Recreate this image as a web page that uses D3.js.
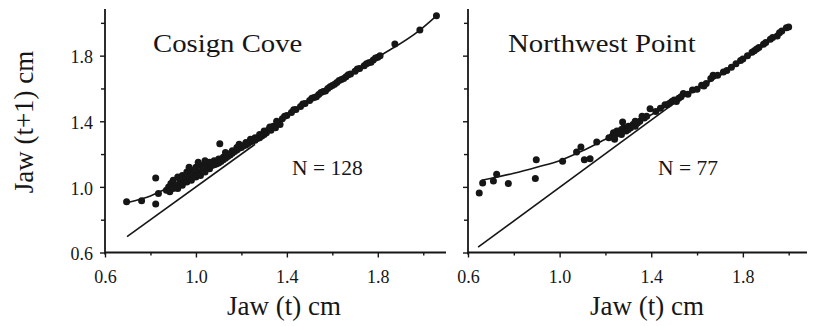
<!DOCTYPE html>
<html>
<head>
<meta charset="utf-8">
<script src="https://cdn.jsdelivr.net/npm/d3@7/dist/d3.min.js"></script>
<style>
  html, body { margin: 0; padding: 0; background: #fff; }
  svg { display: block; }
  text { font-family: "Liberation Serif", "Times New Roman", Times, serif; fill: #161616; }
</style>
</head>
<body>
<svg id="chart" width="813" height="326"></svg>
<script>
// ---------------- data ----------------
const majorTicks = [0.6, 1.0, 1.4, 1.8];
const minorTicks = [0.8, 1.2, 1.6, 2.0];
const xTitle = "Jaw (t) cm";
const yTitle = "Jaw (t+1) cm";

const panelTitles = ["Cosign Cove", "Northwest Point"];
const sampleLabels = ["N = 128", "N = 77"];

// Cosign Cove: [Jaw(t), Jaw(t+1)]
const cosignPoints = [
  [0.695,0.909],[0.761,0.915],[0.823,1.054],[0.823,0.895],[0.835,0.96],
  [0.87,0.98],[0.88,1.00],[0.885,0.97],[0.89,1.02],[0.90,0.99],[0.90,1.04],[0.91,1.01],[0.92,1.06],
  [0.92,0.99],[0.93,1.03],[0.94,1.07],[0.94,1.01],[0.95,1.05],[0.96,1.09],[0.96,1.03],[0.97,1.06],
  [0.98,1.10],[0.98,1.04],[0.99,1.08],[1.00,1.12],[1.00,1.06],[1.01,1.09],[1.02,1.13],[1.02,1.07],
  [1.03,1.10],[1.04,1.14],[1.04,1.09],[1.05,1.12],[1.06,1.15],[1.06,1.11],[1.07,1.13],[1.08,1.16],
  [1.08,1.135],[1.09,1.14],[1.105,1.263],[1.10,1.17],[1.10,1.145],[1.11,1.155],[1.12,1.18],[1.12,1.165],
  [1.13,1.175],[1.14,1.20],[1.14,1.185],[1.15,1.195],[1.16,1.22],[1.16,1.205],[1.17,1.215],[1.18,1.24],
  [1.18,1.225],[1.19,1.235],[1.20,1.25],[1.20,1.24],[1.21,1.25],[1.22,1.27],[1.22,1.255],[1.23,1.265],
  [1.24,1.29],[1.24,1.275],[1.25,1.28],[1.26,1.30],[1.26,1.285],[1.27,1.295],[1.28,1.32],[1.28,1.30],
  [1.29,1.31],[1.30,1.34],[1.30,1.32],[1.31,1.33],[1.32,1.35],[1.33,1.345],[1.34,1.37],[1.35,1.36],
  [1.36,1.39],[1.37,1.38],[1.355,1.40],[1.325,1.365],
  [1.01,1.15],[1.04,1.16],[1.13,1.21],[0.97,1.12],[1.19,1.26],
  [1.38,1.415],[1.40,1.435],[1.42,1.453],[1.44,1.472],[1.46,1.49],[1.48,1.508],[1.50,1.527],
  [1.52,1.545],[1.54,1.563],[1.56,1.581],[1.58,1.60],[1.60,1.618],[1.62,1.636],[1.64,1.654],
  [1.66,1.671],[1.68,1.688],[1.70,1.705],[1.72,1.722],[1.74,1.739],[1.76,1.756],[1.78,1.773],
  [1.80,1.79],[1.81,1.80],
  [1.39,1.43],[1.43,1.47],[1.47,1.505],[1.51,1.54],[1.53,1.55],
  [1.55,1.575],[1.57,1.585],[1.59,1.61],[1.61,1.625],[1.63,1.648],[1.65,1.66],[1.67,1.683],
  [1.71,1.718],[1.75,1.75],[1.77,1.76],[1.79,1.785],
  [1.875,1.871],[1.985,1.956],[2.058,2.043]
];
const cosignCurve = [
  [0.70,0.905],[0.80,0.945],[0.90,1.01],[1.00,1.08],[1.10,1.15],[1.20,1.23],[1.30,1.32],
  [1.40,1.43],[1.60,1.618],[1.80,1.79],[1.985,1.956],[2.058,2.043]
];
const cosignOneToOne = [[0.697,0.697],[1.26,1.26]];

// Northwest Point
const northwestPoints = [
  [0.649,0.963],[0.664,1.024],[0.711,1.036],[0.725,1.077],[0.776,1.02],[0.898,1.166],[0.894,1.051],
  [1.013,1.156],[1.074,1.212],[1.093,1.243],[1.108,1.166],[1.133,1.172],[1.162,1.273],
  [1.215,1.30],[1.23,1.31],[1.235,1.33],[1.245,1.32],[1.25,1.34],[1.26,1.33],[1.27,1.35],[1.275,1.395],
  [1.28,1.36],[1.29,1.34],[1.30,1.37],[1.31,1.36],[1.32,1.38],[1.33,1.37],[1.34,1.39],[1.35,1.40],
  [1.36,1.43],[1.37,1.42],[1.38,1.43],[1.395,1.476],
  [1.46,1.50],[1.47,1.50],[1.48,1.51],[1.49,1.52],[1.50,1.53],[1.51,1.52],[1.52,1.54],[1.54,1.57],
  [1.56,1.565],[1.58,1.59],[1.60,1.595],
  [1.62,1.62],[1.64,1.63],[1.66,1.66],[1.67,1.68],[1.69,1.68],[1.715,1.70],[1.73,1.71],[1.75,1.73],
  [1.77,1.75],[1.79,1.77],[1.80,1.78],
  [1.82,1.80],[1.84,1.82],[1.85,1.83],[1.87,1.85],[1.89,1.87],[1.90,1.88],[1.92,1.90],[1.93,1.91],
  [1.95,1.92],[1.96,1.94],[1.97,1.95],[1.99,1.97],[2.00,1.975],
  [1.24,1.29],[1.27,1.32],[1.30,1.35],[1.33,1.40],[1.42,1.46],[1.44,1.48],[1.53,1.55],[1.63,1.615],[1.86,1.84]
];
const northwestCurve = [
  [0.66,1.04],[0.80,1.083],[0.90,1.12],[1.00,1.16],[1.10,1.22],[1.20,1.29],[1.30,1.36],
  [1.40,1.44],[1.60,1.595],[1.80,1.77],[2.00,1.975]
];
const northwestOneToOne = [[0.644,0.633],[1.52,1.53]];

// ---------------- drawing ----------------
const svg = d3.select("#chart");
const ink = "#161616";

const y = d3.scaleLinear().domain([0.6, 2.085]).range([252.5, 8.9]);

const panels = [
  { points: cosignPoints, curve: cosignCurve, ref: cosignOneToOne,
    x: d3.scaleLinear().domain([0.6, 2.1]).range([105, 446]),
    title: panelTitles[0], titleX: 153, n: sampleLabels[0], nX: 292, yLabels: true, xTitleX: 284 },
  { points: northwestPoints, curve: northwestCurve, ref: northwestOneToOne,
    x: d3.scaleLinear().domain([0.6, 2.08]).range([468, 807]),
    title: panelTitles[1], titleX: 508, n: sampleLabels[1], nX: 658, yLabels: false, xTitleX: 647 }
];

panels.forEach(p => {
  const g = svg.append("g");
  const x = p.x;
  const x0 = x.range()[0];

  // x axis
  const xa = g.append("g").attr("transform", `translate(0,${y(0.6)})`)
    .call(d3.axisBottom(x).tickValues(majorTicks).tickSize(5).tickPadding(13)
      .tickFormat(d3.format(".1f")));
  xa.select(".domain").attr("d", `M${x.range()[0]},0H${x.range()[1]}`);
  g.append("g").attr("transform", `translate(0,${y(0.6)})`)
    .call(d3.axisBottom(x).tickValues(minorTicks).tickSize(3).tickFormat(""))
    .select(".domain").remove();

  // y axis
  const ya = g.append("g").attr("transform", `translate(${x0},0)`)
    .call(d3.axisLeft(y).tickValues(majorTicks).tickSize(5).tickPadding(7)
      .tickFormat(p.yLabels ? d3.format(".1f") : ""));
  ya.select(".domain").attr("d", `M0,${y.range()[0] + 2}V${y.range()[1]}`);
  g.append("g").attr("transform", `translate(${x0},0)`)
    .call(d3.axisLeft(y).tickValues(minorTicks).tickSize(4).tickFormat(""))
    .select(".domain").remove();

  g.selectAll("g").attr("font-family", null);
  g.selectAll(".domain").attr("stroke", ink).attr("stroke-width", 1.8);
  g.selectAll(".tick line").attr("stroke", ink).attr("stroke-width", 1.4);
  g.selectAll(".tick text").attr("font-size", 18).attr("fill", ink)
    .style("font-family", '"Liberation Serif", "Times New Roman", serif');
  ya.selectAll(".tick text").attr("dy", "0.4em");

  // 1:1 reference line
  g.append("path").datum(p.ref)
    .attr("d", d3.line().x(d => x(d[0])).y(d => y(d[1])))
    .attr("fill", "none").attr("stroke", ink).attr("stroke-width", 1.6);

  // fitted curve
  g.append("path").datum(p.curve)
    .attr("d", d3.line().x(d => x(d[0])).y(d => y(d[1])).curve(d3.curveMonotoneX))
    .attr("fill", "none").attr("stroke", ink).attr("stroke-width", 1.6);

  // points
  g.selectAll("circle.pt").data(p.points).join("circle")
    .attr("class", "pt")
    .attr("cx", d => x(d[0])).attr("cy", d => y(d[1])).attr("r", 3.5)
    .attr("fill", ink);

  // panel title (stretched horizontally like the scan)
  g.append("text").attr("transform", `translate(${p.titleX},52) scale(1.15,1)`)
    .attr("font-size", 25).text(p.title);

  // sample size
  g.append("text").attr("x", p.nX).attr("y", 175).attr("font-size", 21.5).text(p.n);

  // x title
  g.append("text").attr("x", p.xTitleX).attr("y", 315).attr("text-anchor", "middle")
    .attr("font-size", 27).text(xTitle);
});

// y title
svg.append("text").attr("transform", "translate(33,122) rotate(-90)")
  .attr("text-anchor", "middle").attr("font-size", 27).text(yTitle);
</script>
</body>
</html>
